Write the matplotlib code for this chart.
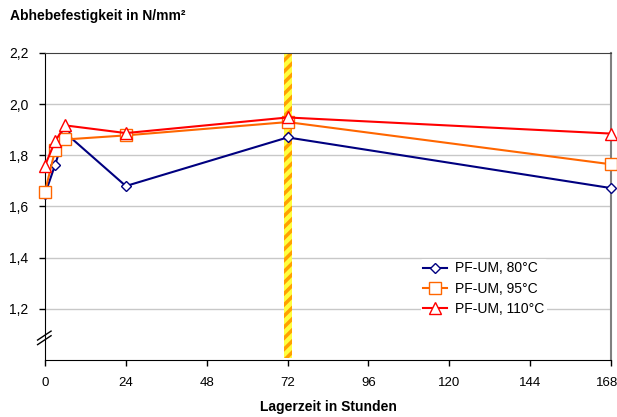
import matplotlib
matplotlib.use('Agg')
import matplotlib.pyplot as plt
import matplotlib.transforms as mtransforms

plt.rcParams['font.family'] = ['Liberation Sans', 'DejaVu Sans']
plt.rcParams['hatch.linewidth'] = 2.5

# Lagerzeit in Stunden
hours = [0, 3, 6, 24, 72, 168]
pf_um_80 = [1.648, 1.763, 1.888, 1.680, 1.870, 1.672]
pf_um_95 = [1.658, 1.820, 1.862, 1.878, 1.930, 1.765]
pf_um_110 = [1.760, 1.855, 1.917, 1.887, 1.948, 1.885]
x_ticks = [0, 24, 48, 72, 96, 120, 144, 168]
y_ticks = [1.2, 1.4, 1.6, 1.8, 2.0, 2.2]
marker_hour = 72

fig = plt.figure(figsize=(6.17, 4.17), dpi=100)
ax = fig.add_axes([45 / 617, 1 - 360 / 417, 566 / 617, 307 / 417])

ax.set_xlim(0, 168)
ax.set_ylim(1.0, 2.2)

for y in y_ticks[:-1]:
    ax.axhline(y, color='#c8c8c8', lw=1, zorder=0)

ax.axvspan(marker_hour - 1.2, marker_hour + 1.2, ymin=0.005, ymax=1,
           facecolor='#ffff40', edgecolor='#ffa000', hatch='///', lw=0, zorder=1)

ax.plot(hours, pf_um_80, color='#000080', marker='D', ms=5, mfc='white',
        mec='#000080', mew=1, lw=1.5, label='PF-UM, 80°C', zorder=3,
        clip_on=False)
ax.plot(hours, pf_um_95, color='#ff6600', marker='s', ms=8, mfc='white',
        mec='#ff6600', mew=1, lw=1.5, label='PF-UM, 95°C', zorder=3,
        clip_on=False)
ax.plot(hours, pf_um_110, color='#ff0000', marker='^', ms=9, mfc='white',
        mec='#ff0000', mew=1, lw=1.5, label='PF-UM, 110°C', zorder=3,
        clip_on=False)

ax.set_xticks(x_ticks)
ax.set_xticklabels([str(t) for t in x_ticks], fontsize=9.5)
ax.set_yticks(y_ticks)
ax.set_yticklabels([f'{t:.1f}'.replace('.', ',') for t in y_ticks], fontsize=10)
ax.tick_params(direction='out', length=4, width=1, pad=8)
ax.tick_params(axis='x', pad=8)

# letzte Beschriftung etwas nach links, damit sie nicht abgeschnitten wird
last = ax.get_xticklabels()[-1]
last.set_transform(last.get_transform() +
                   mtransforms.ScaledTranslation(-4 / 100, 0, fig.dpi_scale_trans))

ax.spines['left'].set_color('black')
ax.spines['bottom'].set_color('black')
ax.spines['top'].set_color('#404040')
ax.spines['right'].set_color('#808080')
ax.spines['right'].set_linewidth(1.5)

# Achsenbruch
for dy in (0.0, 0.018):
    ax.plot([-2.2, 1.8], [1.06 + dy, 1.095 + dy], color='black', lw=1,
            clip_on=False, zorder=5)

ax.set_xlabel('Lagerzeit in Stunden', fontsize=10, fontweight='bold', labelpad=8)
fig.text(10 / 617, 1 - 16 / 417, 'Abhebefestigkeit in N/mm²', fontsize=10,
         fontweight='bold', ha='left', va='center')

leg = ax.legend(loc='lower right', bbox_to_anchor=(0.9, 0.112), frameon=True,
                fontsize=10, handlelength=1.7, labelspacing=0.45,
                borderpad=0.2, handletextpad=0.6)
leg.get_frame().set_edgecolor('none')
leg.get_frame().set_facecolor('white')
leg.get_frame().set_alpha(1)

fig.savefig('out.png', dpi=100)
